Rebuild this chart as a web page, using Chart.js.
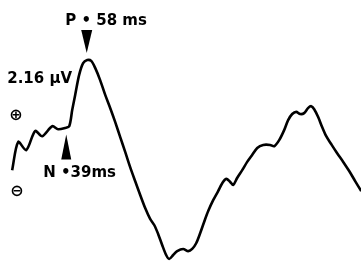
<!DOCTYPE html>
<html>
<head>
<meta charset="utf-8">
<script src="https://cdn.jsdelivr.net/npm/chart.js@4/dist/chart.umd.min.js"></script>
<style>
html,body{margin:0;padding:0;background:#fff;}
canvas{display:block;}
</style>
</head>
<body>
<canvas id="c" width="361" height="262"></canvas>
<script>
// Latency (ms) and amplitude (µV) of the traced evoked potential
const latencyMs = [-10.0,-4.5,2.7,10.9,17.2,26.3,31.7,38.0,41.7,44.4,47.1,50.7,54.3,58.0,61.6,65.2,69.7,74.3,78.8,83.3,87.9,92.4,96.9,101.4,106.0,110.5,115.0,118.7,122.3,125.9,129.5,132.2,135.9,139.5,144.9,149.5,153.1,156.7,160.3,163.9,167.6,172.1,176.6,180.3,183.9,187.5,190.2,193.8,198.4,202.9,207.4,212.0,217.4,223.7,227.4,231.9,236.4,240.0,243.7,247.3,250.9,254.5,258.2,260.9,263.6,267.2,270.8,274.5,279.0,284.4,289.9,295.3,300.7,306.2];
const amplitudeUV = [-0.37,0.28,0.09,0.53,0.41,0.64,0.57,0.60,0.64,1.01,1.36,1.82,2.09,2.16,2.14,1.98,1.70,1.36,1.06,0.74,0.39,0.05,-0.30,-0.62,-0.94,-1.24,-1.49,-1.63,-1.84,-2.09,-2.32,-2.41,-2.32,-2.23,-2.18,-2.23,-2.18,-2.05,-1.82,-1.56,-1.31,-1.06,-0.85,-0.67,-0.57,-0.64,-0.71,-0.55,-0.37,-0.18,-0.02,0.14,0.21,0.21,0.18,0.32,0.55,0.78,0.92,0.97,0.92,0.94,1.06,1.10,1.03,0.85,0.62,0.41,0.23,0.02,-0.18,-0.39,-0.62,-0.85];

// Annotated components
const peakNames = ['P', 'N'];
const peakLatencies = [58, 39];
const peakLabels = ['P • 58 ms', 'N •39ms'];
const amplitudeLabel = '2.16 µV';
const polarityLabels = ['⊕', '⊖'];

const points = latencyMs.map((t, i) => ({x: t, y: amplitudeUV[i]}));

function valueAt(t) {
  for (let i = 0; i < latencyMs.length - 1; i++) {
    if (t >= latencyMs[i] && t <= latencyMs[i + 1]) {
      const f = (t - latencyMs[i]) / (latencyMs[i + 1] - latencyMs[i]);
      return amplitudeUV[i] + f * (amplitudeUV[i + 1] - amplitudeUV[i]);
    }
  }
  return 0;
}

const annotate = {
  id: 'annotate',
  afterDatasetsDraw(chart) {
    const ctx = chart.ctx;
    const xs = chart.scales.x, ys = chart.scales.y;
    ctx.save();
    ctx.fillStyle = '#000';
    ctx.textBaseline = 'alphabetic';
    ctx.textAlign = 'left';

    // P peak: downward triangle above the peak, label above it
    const px = xs.getPixelForValue(peakLatencies[0]);
    const py = ys.getPixelForValue(valueAt(peakLatencies[0]));
    ctx.beginPath();
    ctx.moveTo(px - 6, py - 30);
    ctx.lineTo(px + 5, py - 30);
    ctx.lineTo(px - 0.5, py - 7);
    ctx.closePath();
    ctx.fill();
    ctx.font = 'bold 15px "DejaVu Sans"';
    ctx.fillText(peakLabels[0], px - 22, py - 35);

    // amplitude label, left of the P peak
    ctx.font = 'bold 15px "DejaVu Sans"';
    ctx.fillText(amplitudeLabel, px - 80, py + 23);

    // N trough: upward triangle below, label beneath
    const nx = xs.getPixelForValue(peakLatencies[1]);
    const ny = ys.getPixelForValue(valueAt(peakLatencies[1]));
    ctx.beginPath();
    ctx.moveTo(nx, ny + 7);
    ctx.lineTo(nx + 5, ny + 32);
    ctx.lineTo(nx - 5, ny + 32);
    ctx.closePath();
    ctx.fill();
    ctx.font = 'bold 15px "DejaVu Sans"';
    ctx.fillText(peakLabels[1], nx - 23, ny + 50);

    // polarity marks at the left edge
    const y0 = ys.getPixelForValue(0);
    ctx.font = 'bold 16px "DejaVu Sans"';
    ctx.textAlign = 'center';
    ctx.textBaseline = 'middle';
    ctx.fillText(polarityLabels[0], 16, y0 - 38);
    ctx.fillText(polarityLabels[1], 17, y0 + 38);
    ctx.restore();
  }
};

new Chart(document.getElementById('c'), {
  type: 'line',
  data: {
    datasets: [{
      data: points,
      borderColor: '#000',
      borderWidth: 2.6,
      pointRadius: 0,
      tension: 0.3,
      fill: false
    }]
  },
  options: {
    responsive: false,
    animation: false,
    layout: {padding: 0},
    plugins: {legend: {display: false}, tooltip: {enabled: false}},
    scales: {
      x: {type: 'linear', min: -21, max: 306, display: false},
      y: {type: 'linear', min: -2.48, max: 3.54, display: false}
    }
  },
  plugins: [annotate]
});
</script>
</body>
</html>
